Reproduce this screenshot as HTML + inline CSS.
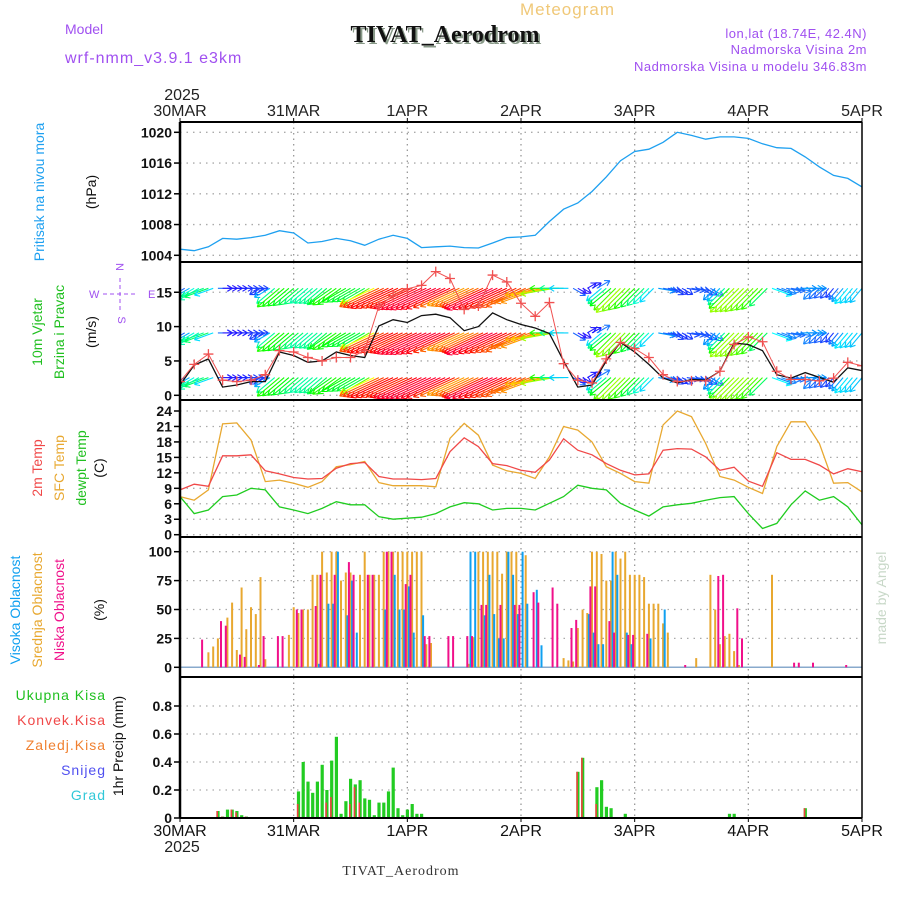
<!DOCTYPE html>
<html><head><meta charset="utf-8"><style>
html,body{margin:0;padding:0;background:#fff;}
svg{display:block;font-family:"Liberation Sans",sans-serif;}
</style></head><body>
<svg id="chart" width="900" height="900" viewBox="0 0 900 900" xmlns="http://www.w3.org/2000/svg">
<defs>
<clipPath id="clipWind"><rect x="180" y="262" width="682" height="138"/></clipPath>
<clipPath id="clipAll"><rect x="180" y="122" width="682" height="696"/></clipPath>
</defs>
<!-- header -->
<text x="65" y="34" font-size="14" fill="#a050f0">Model</text>
<text x="65" y="63" font-size="16" fill="#a050f0" letter-spacing="1">wrf-nmm_v3.9.1 e3km</text>
<text x="520" y="15" font-size="17" fill="#f0c878" letter-spacing="1">Meteogram</text>
<text x="447" y="44" font-size="24" font-weight="bold" font-family="Liberation Serif, serif" fill="#889988" text-anchor="middle">TIVAT_Aerodrom</text>
<text x="445" y="42" font-size="24" font-weight="bold" font-family="Liberation Serif, serif" fill="#111" text-anchor="middle">TIVAT_Aerodrom</text>
<text x="867" y="38" font-size="13" fill="#a050f0" text-anchor="end" letter-spacing="0.5">lon,lat (18.74E, 42.4N)</text>
<text x="867" y="54" font-size="13" fill="#a050f0" text-anchor="end" letter-spacing="0.5">Nadmorska Visina 2m</text>
<text x="867" y="71" font-size="13" fill="#a050f0" text-anchor="end" letter-spacing="0.5">Nadmorska Visina u modelu 346.83m</text>
<text x="182" y="100" font-size="16" fill="#222" text-anchor="middle">2025</text>
<text x="182" y="852" font-size="16" fill="#222" text-anchor="middle">2025</text>
<text x="401" y="875" font-size="14" font-family="Liberation Serif, serif" fill="#333" text-anchor="middle" letter-spacing="1">TIVAT_Aerodrom</text>
<text transform="translate(886,598) rotate(-90)" font-size="14" fill="#c8d8c8" text-anchor="middle">made by Angel</text>
<!-- left labels -->
<text transform="translate(44,192) rotate(-90)" font-size="14" fill="#1ea0f0" text-anchor="middle">Pritisak na nivou mora</text>
<text transform="translate(96,192) rotate(-90)" font-size="14" fill="#111" text-anchor="middle">(hPa)</text>
<text transform="translate(42,332) rotate(-90)" font-size="14" fill="#20c020" text-anchor="middle">10m Vjetar</text>
<text transform="translate(64,332) rotate(-90)" font-size="14" fill="#20c020" text-anchor="middle">Brzina i Pravac</text>
<text transform="translate(96,332) rotate(-90)" font-size="14" fill="#111" text-anchor="middle">(m/s)</text>
<g fill="#a050f0" font-size="11" stroke="#a050f0">
<text x="119" y="270" text-anchor="middle" stroke="none" transform="rotate(90 119 267)">N</text>
<text x="89" y="298" stroke="none">W</text>
<text x="148" y="298" stroke="none">E</text>
<text x="121" y="323" text-anchor="middle" stroke="none" transform="rotate(90 121 320)">S</text>
<line x1="103" y1="294" x2="137" y2="294" stroke-dasharray="4,3"/>
<line x1="120" y1="278" x2="120" y2="311" stroke-dasharray="4,3"/>
</g>
<text transform="translate(42,468) rotate(-90)" font-size="14" fill="#f04848" text-anchor="middle">2m Temp</text>
<text transform="translate(64,468) rotate(-90)" font-size="14" fill="#e8a830" text-anchor="middle">SFC Temp</text>
<text transform="translate(86,468) rotate(-90)" font-size="14" fill="#20c020" text-anchor="middle">dewpt Temp</text>
<text transform="translate(104,468) rotate(-90)" font-size="14" fill="#111" text-anchor="middle">(C)</text>
<text transform="translate(20,610) rotate(-90)" font-size="14" fill="#10a0f0" text-anchor="middle">Visoka Oblacnost</text>
<text transform="translate(42,610) rotate(-90)" font-size="14" fill="#e8a830" text-anchor="middle">Srednja Oblacnost</text>
<text transform="translate(64,610) rotate(-90)" font-size="14" fill="#f0108a" text-anchor="middle">Niska Oblacnost</text>
<text transform="translate(104,610) rotate(-90)" font-size="14" fill="#111" text-anchor="middle">(%)</text>
<text x="106" y="700" font-size="14" fill="#20c020" text-anchor="end" letter-spacing="1">Ukupna Kisa</text>
<text x="106" y="725" font-size="14" fill="#f04848" text-anchor="end" letter-spacing="1">Konvek.Kisa</text>
<text x="106" y="750" font-size="14" fill="#f08030" text-anchor="end" letter-spacing="1">Zaledj.Kisa</text>
<text x="106" y="775" font-size="14" fill="#5050f0" text-anchor="end" letter-spacing="1">Snijeg</text>
<text x="106" y="800" font-size="14" fill="#30c8d8" text-anchor="end" letter-spacing="1">Grad</text>
<text transform="translate(123,746) rotate(-90)" font-size="14" fill="#111" text-anchor="middle">1hr Precip (mm)</text>
<g id="layer"></g>
</svg>
<script>
// ---- data (hour 0 = 30MAR 00, 3-hourly unless pairs) ----
const dayLabels = ["30MAR","31MAR","1APR","2APR","3APR","4APR","5APR"];
const pressure = [1004.8,1004.6,1005.1,1006.2,1006.1,1006.3,1006.6,1007.2,1006.9,1005.6,1005.8,1006.2,1005.9,1005.3,1006.1,1006.6,1006.2,1005.0,1005.1,1005.2,1005.0,1004.95,1005.6,1006.3,1006.4,1006.6,1008.4,1010.0,1010.8,1012.3,1014.2,1016.3,1017.5,1017.8,1018.7,1020.0,1019.6,1019.1,1019.4,1019.4,1019.2,1018.5,1018.0,1017.9,1016.8,1015.5,1014.4,1014.0,1012.9];
const temp2m = [8.7,9.8,9.4,15.3,15.3,15.5,12.4,11.8,11.1,10.8,10.9,12.9,13.8,14.0,11.3,10.8,10.8,10.7,10.9,16.1,18.8,17.1,13.8,13.4,12.5,12.1,14.5,18.6,16.4,15.5,13.8,12.5,11.6,11.8,16.4,16.7,16.6,15.1,12.5,13.1,10.4,9.4,15.9,14.6,14.6,13.5,11.8,12.8,12.2];
const tempSfc = [7.4,6.7,8.7,21.5,21.7,18.4,10.3,10.6,10.0,9.2,10.3,13.2,13.6,14.2,10.1,9.5,9.5,9.5,9.3,18.7,21.6,19.3,13.5,12.4,11.9,10.9,15.1,21.0,20.3,18.0,13.2,11.9,10.3,10.0,21.3,24.0,22.9,17.7,11.3,10.6,9.2,8.0,17.1,21.9,21.9,17.7,10.0,10.1,8.3];
const tempDew = [7.4,4.1,4.8,7.4,7.7,9.0,8.7,5.4,4.8,4.1,5.1,6.4,5.8,5.8,3.5,3.0,3.2,3.4,4.1,5.4,6.2,6.0,4.8,5.1,5.1,4.8,6.1,7.4,9.6,9.0,8.7,6.1,4.8,3.6,5.4,5.8,6.1,6.7,7.2,7.4,4.1,1.2,2.2,5.8,8.5,6.7,7.4,5.4,1.9];
const windSpeed = [1.5,4.4,5.3,1.2,1.5,2.0,2.0,6.3,5.8,4.8,5.0,6.3,5.8,5.5,10.1,11.0,10.6,11.6,11.8,11.3,9.4,10.0,12.0,11.0,10.3,9.8,9.0,5.0,1.2,1.5,5.0,7.7,6.3,4.5,2.5,1.8,2.3,2.2,3.5,7.6,7.4,6.5,3.0,2.5,3.3,2.6,1.9,4.0,3.6];
const windGust = [2,4.5,6,2.2,2,2.2,3,6.5,6.3,5.5,5,5.5,5.5,6.5,13,14.5,15.5,16,18,17,12.5,13,17.5,16.5,13.4,11.5,13.5,4.6,2.2,1.8,5.3,7.7,6.8,5.5,3,2,2.1,2.1,3.5,7.4,8.5,7.8,3.5,2.3,2.3,2.1,2.5,4.8,4.3];
const windDir = [60,60,70,270,270,270,60,50,50,50,50,55,60,60,65,65,65,65,65,65,65,65,65,65,65,70,80,90,300,240,50,45,45,45,280,300,280,300,45,45,45,45,290,280,270,45,40,40,40];
const cloudMid = [[6,13],[7,18],[8,25],[10,43],[11,56],[12,15],[13,69],[14,33],[15,52],[16,46],[17,78],[18,7],[23,28],[24,52],[25,47],[26,50],[27,50],[28,80],[29,80],[30,100],[31,82],[32,100],[33,100],[34,75],[35,82],[36,82],[38,80],[39,100],[40,80],[41,80],[42,80],[43,100],[44,100],[45,100],[46,100],[47,100],[48,100],[49,100],[50,100],[51,100],[52,20],[53,21],[61,3],[62,26],[63,100],[64,100],[65,100],[66,100],[67,100],[68,81],[69,100],[70,100],[71,100],[73,97],[81,8],[82,6],[83,5],[84,34],[85,50],[86,47],[87,100],[88,100],[89,98],[90,75],[91,75],[92,100],[93,94],[94,100],[95,80],[96,80],[97,80],[98,78],[99,55],[100,55],[101,55],[102,38],[103,30],[109,8],[112,80],[113,50],[114,20],[115,27],[116,29],[117,14],[118,2],[125,80]];
const cloudHigh = [[29,3],[31,55],[32,55],[33,100],[35,45],[36,75],[37,30],[43,50],[45,80],[46,50],[47,50],[48,70],[49,30],[51,45],[61,100],[62,100],[64,45],[65,80],[66,46],[67,25],[68,25],[69,100],[70,80],[71,46],[72,100],[73,55],[75,67],[76,19],[86,46],[87,30],[88,20],[89,20],[91,100],[92,80],[94,30],[95,20],[99,25],[102,50]];
const cloudLow = [[5,24],[9,40],[10,36],[13,11],[14,9],[17,2],[18,27],[21,27],[22,27],[25,50],[26,50],[29,53],[30,80],[33,80],[36,91],[37,80],[40,80],[41,80],[44,100],[45,100],[48,72],[49,80],[52,27],[53,27],[57,27],[58,27],[61,27],[62,27],[64,54],[65,54],[68,54],[71,54],[72,54],[75,65],[76,56],[79,69],[80,55],[83,34],[84,41],[87,70],[88,70],[91,40],[92,30],[95,28],[96,28],[99,29],[107,2],[114,79],[115,80],[118,51],[119,25],[130,4],[131,4],[134,4],[141,2]];
const precipTotal = [[8,0.05],[9,0.01],[10,0.06],[11,0.06],[12,0.05],[13,0.02],[14,0.01],[25,0.19],[26,0.40],[27,0.26],[28,0.18],[29,0.26],[30,0.38],[31,0.2],[32,0.41],[33,0.58],[34,0.03],[35,0.12],[36,0.28],[37,0.24],[38,0.27],[39,0.14],[40,0.13],[41,0.02],[42,0.11],[43,0.11],[44,0.19],[45,0.36],[46,0.07],[47,0.02],[48,0.06],[49,0.1],[50,0.03],[51,0.03],[84,0.33],[85,0.43],[88,0.22],[89,0.27],[90,0.08],[91,0.07],[94,0.03],[116,0.03],[117,0.03],[132,0.07]];
const precipConv = [[8,0.05],[9,0.01],[11,0.06],[12,0.04],[14,0.01],[25,0.1],[31,0.11],[32,0.15],[36,0.1],[37,0.22],[38,0.11],[84,0.33],[85,0.43],[88,0.1],[132,0.07]];
const pressTicks = [1004,1008,1012,1016,1020];
const windTicks = [0,5,10,15];
const tempTicks = [0,3,6,9,12,15,18,21,24];
const cloudTicks = [0,25,50,75,100];
const precipTicks = [0,0.2,0.4,0.6,0.8];
const precipTickLabels = ["0","0.2","0.4","0.6","0.8"];
const barbLevels = [2,8.5,15];

// ---- axes ----
const X0=180, X1=862, HOURS=144, STEP=3;
const xs = h => X0 + h*(X1-X0)/HOURS;
const yP = v => 255.3 - (v-1004)*(123/16);
const yW = v => 395.3 - v*6.87;
const yT = v => 534.7 - v*(123.7/24);
const yC = v => 667.3 - v*1.156;
const yR = v => 818 - v*140;

const NS="http://www.w3.org/2000/svg";
const layer=document.getElementById('layer');
function el(tag, attrs, parent){
  const e=document.createElementNS(NS,tag);
  for(const k in attrs) e.setAttribute(k,attrs[k]);
  (parent||layer).appendChild(e); return e;
}
function group(name){
  const g=el('g',{});
  
  
  return g;
}

// grid + ticks
const panels=[
  {name:'pressure',top:122,bot:262,ticks:pressTicks,labels:pressTicks.map(String),y:yP},
  {name:'wind',top:262,bot:400,ticks:windTicks,labels:windTicks.map(String),y:yW},
  {name:'temp',top:400,bot:537,ticks:tempTicks,labels:tempTicks.map(String),y:yT},
  {name:'cloud',top:537,bot:677,ticks:cloudTicks,labels:cloudTicks.map(String),y:yC},
  {name:'precip',top:677,bot:818,ticks:precipTicks,labels:precipTickLabels,y:yR}
];
panels.forEach(p=>{
  const g=group(p.name+'-axis');
  p.ticks.forEach((t,i)=>{
    const y=p.y(t);
    const gl=el('line',{x1:X0,x2:X1,y1:y,y2:y,stroke:'#aaa','stroke-width':1.3,'stroke-dasharray':'1.5,5'},g);
    
    
    el('line',{x1:X0-6,x2:X0,y1:y,y2:y,stroke:'#000','stroke-width':1.5},g);
    const tx=el('text',{x:X0-8,y:y+5,'font-size':14,'font-weight':'bold','text-anchor':'end',fill:'#111'},g);
    tx.textContent=p.labels[i];
    
    
  });
  for(let d=1; d<dayLabels.length-1; d++){
    const x=xs(d*24);
    el('line',{x1:x,x2:x,y1:p.top,y2:p.bot,stroke:'#999','stroke-width':1.3,'stroke-dasharray':'1.5,4'},g);
  }
});
// day labels
const gd=group('day-labels');
dayLabels.forEach((d,i)=>{
  const x=xs(i*24);
  const t1=el('text',{x:x,y:116,'font-size':16,'text-anchor':'middle',fill:'#222'},gd);
  t1.textContent=d;
  
  
  const t2=el('text',{x:x,y:836,'font-size':16,'text-anchor':'middle',fill:'#111'},gd);
  t2.textContent=d;
  
  
  el('line',{x1:x,x2:x,y1:118,y2:122,stroke:'#000'},gd);
  el('line',{x1:x,x2:x,y1:818,y2:822,stroke:'#000'},gd);
});

// ---- pressure ----
function linePath(arr, yf){
  return arr.map((v,i)=>(i?'L':'M')+xs(i*STEP).toFixed(1)+' '+yf(v).toFixed(1)).join(' ');
}
const pl=el('path',{d:linePath(pressure,yP),fill:'none',stroke:'#1ea0f0','stroke-width':1.3});



// ---- wind ----
const gw=group('wind-panel');
gw.setAttribute('clip-path','url(#clipWind)');
function hueFor(s){
  const st=[[0,270],[2,230],[4,185],[6,120],[8,75],[9.5,35],[11,0],[13,-30],[20,-40]];
  for(let i=1;i<st.length;i++){ if(s<=st[i][0]){const a=st[i-1],b=st[i];const f=(s-a[0])/(b[0]-a[0]);return a[1]+f*(b[1]-a[1]);} }
  return -40;
}
function sample(arr,h){ const i=Math.min(Math.floor(h/STEP),arr.length-2); const f=(h-i*STEP)/STEP; return arr[i]+(arr[i+1]-arr[i])*f; }
barbLevels.forEach(lv=>{
  const gr=group('wind-arrow-row');
  gw.appendChild(gr);
  for(let h=0; h<=HOURS; h++){
    const s=sample(windSpeed,h);
    const i=Math.round(h/STEP);
    const dir=windDir[Math.min(i,windDir.length-1)];
    const to=(dir+180)*Math.PI/180;
    const L=3.8*s+5;
    const x0=xs(h), y0=yW(lv)-4;
    const ux=Math.sin(to), uy=-Math.cos(to);
    const x1=x0+ux*L, y1=y0+uy*L;
    const col='hsl('+((hueFor(s)+360)%360).toFixed(0)+',100%,'+(s<3?55:50)+'%)';
    const a=el('path',{d:'M'+x0.toFixed(1)+' '+y0.toFixed(1)+'L'+x1.toFixed(1)+' '+y1.toFixed(1)+
      'M'+x1.toFixed(1)+' '+y1.toFixed(1)+'L'+(x1-ux*5+uy*3).toFixed(1)+' '+(y1-uy*5-ux*3).toFixed(1)+
      'M'+x1.toFixed(1)+' '+y1.toFixed(1)+'L'+(x1-ux*5-uy*3).toFixed(1)+' '+(y1-uy*5+ux*3).toFixed(1),
      stroke:col,'stroke-width':1.1,fill:'none'},gr);
    
    
  }
});
const wl=el('path',{d:linePath(windSpeed,yW),fill:'none',stroke:'#111','stroke-width':1.3},gw);


const gl2=el('path',{d:linePath(windGust,yW),fill:'none',stroke:'#f05050','stroke-width':1},gw);


windGust.forEach((v,i)=>{
  const x=xs(i*STEP), y=yW(v);
  const m=el('path',{d:'M'+(x-5)+' '+y+'L'+(x+5)+' '+y+'M'+x+' '+(y-5)+'L'+x+' '+(y+5),stroke:'#f05050','stroke-width':1.3},gw);
  
  
});

// ---- temperature ----
[[tempSfc,'#e8a830','temp-sfc-line'],[temp2m,'#f04848','temp-2m-line'],[tempDew,'#20cc20','temp-dewpt-line']].forEach(([arr,c,n])=>{
  const p=el('path',{d:linePath(arr,yT),fill:'none',stroke:c,'stroke-width':1.3});
  
  
});

// ---- clouds ----
const gc=group('cloud-bars');
el('line',{x1:X0,x2:X1,y1:yC(0),y2:yC(0),stroke:'#88aacc','stroke-width':1.5},gc);
[[cloudMid,'#e8a830',0,'cloud-mid-bar'],[cloudHigh,'#10a0f0',1.6,'cloud-high-bar'],[cloudLow,'#f0108a',-1.6,'cloud-low-bar']].forEach(([arr,c,off,n])=>{
  arr.forEach(([h,v])=>{
    const x=xs(h)+off, y=yC(v);
    const r=el('rect',{x:(x-1).toFixed(1),y:y.toFixed(1),width:2,height:(yC(0)-y).toFixed(1),fill:c},gc);
    
    
  });
});

// ---- precipitation ----
const gp=group('precip-bars');
precipTotal.forEach(([h,v])=>{
  const y=yR(v);
  const r=el('rect',{x:(xs(h)-1.5).toFixed(1),y:y.toFixed(1),width:3.2,height:(yR(0)-y).toFixed(1),fill:'#22cc22'},gp);
  
  
});
precipConv.forEach(([h,v])=>{
  const y=yR(v);
  const r=el('rect',{x:(xs(h)-1.5).toFixed(1),y:y.toFixed(1),width:1.6,height:(yR(0)-y).toFixed(1),fill:'#f04040'},gp);
  
  
});

// ---- frame ----
const gf=group('panel-frame');
[122,262,400,537,677,818].forEach(y=>el('line',{x1:X0,x2:X1,y1:y,y2:y,stroke:'#000','stroke-width':2},gf));
el('line',{x1:X0,x2:X0,y1:122,y2:818,stroke:'#000','stroke-width':2.5},gf);
el('line',{x1:X1,x2:X1,y1:122,y2:818,stroke:'#000','stroke-width':1.5},gf);
</script>
</body></html>
